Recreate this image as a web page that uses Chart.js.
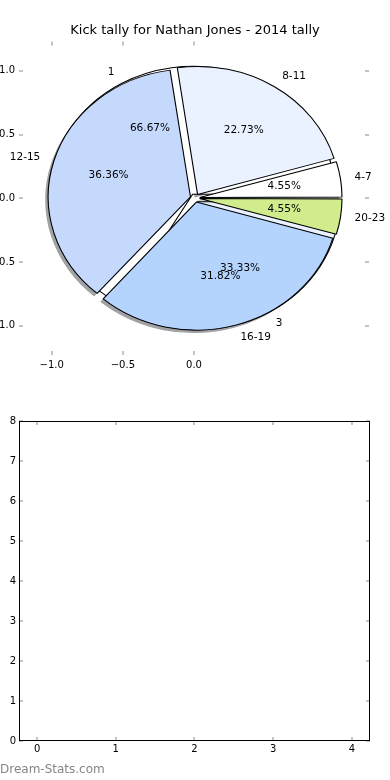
<!DOCTYPE html>
<html>
<head>
<meta charset="utf-8">
<script src="https://cdn.jsdelivr.net/npm/chart.js@4.4.0/dist/chart.umd.min.js"></script>
<style>
  body { margin: 0; background: #fff; }
  #wrap { position: relative; width: 390px; height: 780px; overflow: hidden; }
  canvas { position: absolute; }
  #mark { position: absolute; left: 0; top: 762px; font: 12px "DejaVu Sans"; color: #858585; }
</style>
</head>
<body>
<div id="wrap">
  <canvas id="axesTop" width="390" height="390" style="left:0;top:0"></canvas>
  <canvas id="shadow" width="390" height="396" style="left:-3px;top:3px"></canvas>
  <canvas id="pieKicks" width="390" height="396" style="left:0;top:0"></canvas>
  <canvas id="pieTimes" width="390" height="396" style="left:0;top:0"></canvas>
  <canvas id="axesBottom" width="390" height="390" style="left:0;top:390px"></canvas>
  <div id="mark">Dream-Stats.com</div>
</div>
<script>
// pie 1: kick counts
const kickLabels = ["1", "3"];
const kickValues = [2, 1];
const kickColors = ["#ffffff", "#eaf2ff"];

// pie 2: time of the game
const timeLabels = ["4-7", "8-11", "12-15", "16-19", "20-23"];
const timeValues = [1, 5, 8, 7, 1];
const timeColors = ["#ffffff", "#eaf2ff", "#c5d9fd", "#b4d4fd", "#d0ec8c"];

const topXTicks = [-1.0, -0.5, 0.0];
const topYTicks = [1.0, 0.5, 0.0, -0.5, -1.0];
const bottomXTicks = [0, 1, 2, 3, 4];
const bottomYTicks = [0, 1, 2, 3, 4, 5, 6, 7, 8];

const FONT = "DejaVu Sans";
const R = 128;            // pie radius, px (vertical)
const SX = 142.3 / 128;   // pie axes are not equal aspect
const EXPLODE = 17;       // chart.js draws offset / 4

const stretch = {
  id: "stretch",
  afterDatasetsUpdate(chart) {
    // chart.js grows narrow exploded arcs, keep them at R like matplotlib
    chart.getDatasetMeta(0).data.forEach((arc) => {
      const circ = arc.endAngle - arc.startAngle;
      const fix = 1 - Math.sin(Math.min(Math.PI, circ));
      arc.outerRadius = R - (arc.options.offset / 4) * fix;
    });
  },
  beforeDatasetsDraw(chart) {
    const { ctx, chartArea: a } = chart;
    const cx = (a.left + a.right) / 2, cy = (a.top + a.bottom) / 2;
    ctx.save();
    ctx.translate(cx, cy);
    ctx.scale(SX, 1);
    ctx.translate(-cx, -cy);
  },
  afterDatasetsDraw(chart) {
    chart.ctx.restore();
  },
};

function pieConfig(labels, values, colors, border, extra) {
  return {
    type: "pie",
    data: {
      labels: [...labels].reverse(),
      datasets: [{
        data: [...values].reverse(),
        backgroundColor: [...colors].reverse(),
        borderColor: "#000",
        borderWidth: border,
        offset: EXPLODE,
      }],
    },
    options: {
      responsive: false,
      animation: false,
      events: [],
      radius: R,
      rotation: 90,
      plugins: { legend: { display: false }, tooltip: { enabled: false } },
    },
    plugins: [stretch, ...extra],
  };
}

const innerTicks = {
  id: "innerTicks",
  afterDraw(chart) {
    const { ctx, chartArea: a, scales } = chart;
    ctx.save();
    ctx.strokeStyle = "#c4c4c4";
    ctx.lineWidth = 2;
    ctx.beginPath();
    scales.x.ticks.forEach((t) => {
      const px = Math.round(scales.x.getPixelForValue(t.value));
      ctx.moveTo(px, a.bottom); ctx.lineTo(px, a.bottom - 4);
      ctx.moveTo(px, a.top); ctx.lineTo(px, a.top + 4);
    });
    scales.y.ticks.forEach((t) => {
      const py = Math.round(scales.y.getPixelForValue(t.value));
      ctx.moveTo(a.left, py); ctx.lineTo(a.left + 4, py);
      ctx.moveTo(a.right, py); ctx.lineTo(a.right - 4, py);
    });
    ctx.stroke();
    ctx.restore();
  },
};

const frame = {
  id: "frame",
  afterDraw(chart) {
    const { ctx, chartArea: a } = chart;
    ctx.save();
    ctx.strokeStyle = "#000";
    ctx.lineWidth = 1;
    ctx.strokeRect(a.left + 0.5, a.top + 0.5, a.right - a.left - 1, a.bottom - a.top - 1);
    ctx.restore();
  },
};

const fmt = (v) => (v < 0 ? "\u2212" : "") + Math.abs(v).toFixed(1);

function axisOpts(min, max, ticks, cb, pad, fit) {
  return {
    type: "linear",
    min: min,
    max: max,
    afterBuildTicks: (s) => { s.ticks = ticks.map((v) => ({ value: v })); },
    afterFit: fit,
    grid: { display: false, drawTicks: false },
    border: { display: false },
    ticks: {
      padding: pad,
      color: "#000",
      autoSkip: false,
      maxRotation: 0,
      font: { family: FONT, size: 10 },
      callback: cb,
    },
  };
}

// top axes (behind the pies)
new Chart(document.getElementById("axesTop"), {
  type: "scatter",
  data: { datasets: [{ data: [] }] },
  options: {
    responsive: false,
    animation: false,
    events: [],
    plugins: {
      legend: { display: false },
      tooltip: { enabled: false },
      title: {
        display: true,
        text: "Kick tally for Nathan Jones - 2014 tally",
        color: "#000",
        font: { family: FONT, size: 13, weight: "normal" },
        padding: { top: 23, bottom: 3 },
      },
    },
    scales: {
      x: axisOpts(-1.23, 1.23, topXTicks, fmt, 4, (s) => { s.height = 35; }),
      y: axisOpts(-1.23, 1.23, topYTicks, fmt, 4, (s) => { s.width = 19; }),
      yRight: {
        position: "right",
        afterFit: (s) => { s.width = 21; },
        grid: { display: false, drawTicks: false },
        border: { display: false },
        ticks: { display: false },
      },
    },
  },
  plugins: [innerTicks],
});

new Chart(document.getElementById("shadow"),
  pieConfig(timeLabels, timeValues, timeValues.map(() => "#a0a2a6"), 0, []));

const kickChart = new Chart(document.getElementById("pieKicks"),
  pieConfig(kickLabels, kickValues, kickColors, 1, []));

const pieText = {
  id: "pieText",
  afterDatasetsDraw(chart) {
    const ctx = chart.ctx;
    ctx.save();
    ctx.fillStyle = "#000";
    ctx.font = "10.5px '" + FONT + "'";
    ctx.textBaseline = "middle";
    [kickChart, chart].forEach((c) => {
      const ds = c.data.datasets[0];
      const total = ds.data.reduce((s, v) => s + v, 0);
      c.getDatasetMeta(0).data.forEach((arc, i) => {
        const p = arc.getProps(["x", "y", "startAngle", "endAngle"]);
        const mid = (p.startAngle + p.endAngle) / 2;
        const off = arc.options.offset / 4;
        const cos = Math.cos(mid), sin = Math.sin(mid);
        const dp = off + 0.6 * R;
        ctx.textAlign = "center";
        ctx.fillText((ds.data[i] / total * 100).toFixed(2) + "%", p.x + cos * dp * SX, p.y + sin * dp);
        const dl = off + 1.1 * R;
        ctx.textAlign = cos > 0 ? "left" : "right";
        ctx.fillText(c.data.labels[i], p.x + cos * dl * SX, p.y + sin * dl);
      });
    });
    ctx.restore();
  },
};

new Chart(document.getElementById("pieTimes"),
  pieConfig(timeLabels, timeValues, timeColors, 1, [pieText]));

// empty second subplot
new Chart(document.getElementById("axesBottom"), {
  type: "scatter",
  data: { datasets: [{ data: [] }] },
  options: {
    responsive: false,
    animation: false,
    events: [],
    layout: { padding: { left: 0, right: 20, top: 31, bottom: 0 } },
    plugins: { legend: { display: false }, tooltip: { enabled: false } },
    scales: {
      x: axisOpts(-0.23, 4.23, bottomXTicks, (v) => String(v), 2, (s) => { s.height = 39; }),
      y: axisOpts(0, 8, bottomYTicks, (v) => String(v), 3, (s) => { s.width = 19; }),
    },
  },
  plugins: [innerTicks, frame],
});
</script>
</body>
</html>
